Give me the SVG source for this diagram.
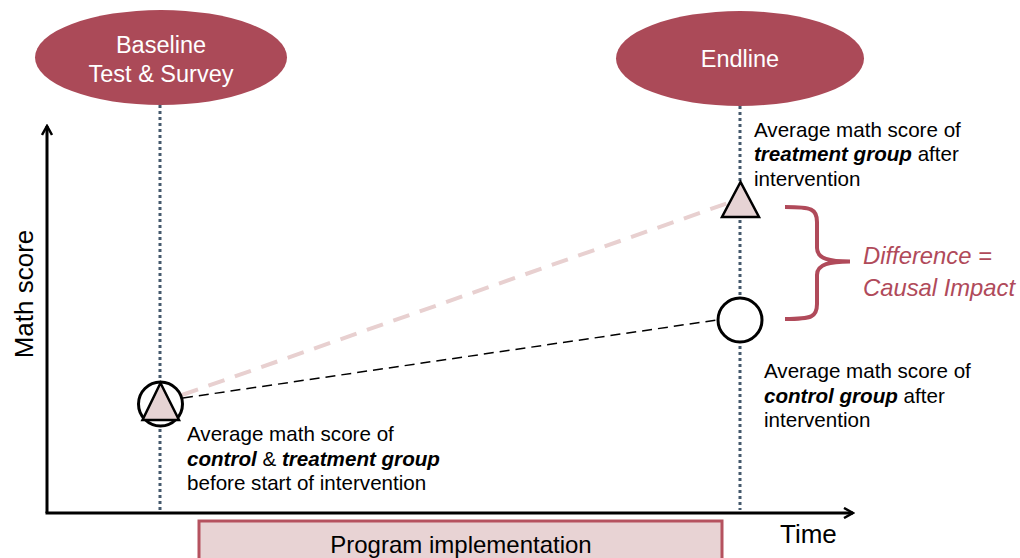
<svg xmlns="http://www.w3.org/2000/svg" width="1020" height="558" viewBox="0 0 1020 558">
<defs>
<style>
text{font-family:"Liberation Sans",Arial,sans-serif;}
.lbl{font-size:20.6px;fill:#000;}
.ell{fill:#ab4a58;}
.etx{font-size:23.5px;fill:#fff;text-anchor:middle;}
.dot{stroke:#44596c;stroke-width:3;stroke-dasharray:3 3;fill:none;}
.axis{stroke:#000;stroke-width:3;fill:none;}
.imp{font-size:23.8px;fill:#b04a5a;font-style:italic;}
</style>
<marker id="ah" viewBox="0 0 12 12" refX="10" refY="6" markerWidth="12" markerHeight="12" markerUnits="userSpaceOnUse" orient="auto">
<path d="M1,1 L10,6 L1,11" fill="none" stroke="#000" stroke-width="2.5"/>
</marker>
</defs>
<rect width="1020" height="558" fill="#fff"/>
<g id="connectors">
<line class="dot" x1="160" y1="105" x2="160" y2="510"/>
<line class="dot" x1="740" y1="106" x2="740" y2="510"/>
<line class="axis" x1="47" y1="513" x2="47" y2="126" marker-end="url(#ah)"/>
<line class="axis" x1="45.5" y1="513" x2="853" y2="513" marker-end="url(#ah)"/>
<line x1="182" y1="395" x2="728" y2="203" stroke="#e8d0d0" stroke-width="4" stroke-dasharray="17 11"/>
<line x1="183" y1="398" x2="717" y2="320" stroke="#000" stroke-width="1.5" stroke-dasharray="10 6"/>
</g>
<g id="baseline">
<ellipse class="ell" cx="161" cy="57.5" rx="126" ry="47.5"/>
<text class="etx" x="161" y="53">Baseline</text>
<text class="etx" x="161" y="82">Test &amp; Survey</text>
</g>
<g id="endline">
<ellipse class="ell" cx="740" cy="58.5" rx="124" ry="47.5"/>
<text class="etx" x="740" y="66.5">Endline</text>
</g>
<g id="baseline-point">
<circle cx="160.5" cy="404" r="22" fill="#fff" stroke="#000" stroke-width="3"/>
<polygon points="160.5,383 142.5,420 179,420" fill="#e6d3d4" stroke="#000" stroke-width="2.5" stroke-linejoin="miter"/>
</g>
<g id="treatment-point">
<polygon points="740.5,182 722,217 759,217" fill="#e6d3d4" stroke="#000" stroke-width="2.5"/>
</g>
<g id="control-point">
<circle cx="740" cy="320" r="22" fill="#fff" stroke="#000" stroke-width="3"/>
</g>
<g id="baseline-label">
<text class="lbl" x="187" y="441">Average math score of</text>
<text class="lbl" x="187" y="466"><tspan font-weight="bold" font-style="italic">control</tspan> &amp; <tspan font-weight="bold" font-style="italic">treatment group</tspan></text>
<text class="lbl" x="187" y="490">before start of intervention</text>
</g>
<g id="treatment-label">
<text class="lbl" x="754" y="137">Average math score of</text>
<text class="lbl" x="754" y="161"><tspan font-weight="bold" font-style="italic">treatment group</tspan> after</text>
<text class="lbl" x="754" y="186">intervention</text>
</g>
<g id="control-label">
<text class="lbl" x="764" y="378">Average math score of</text>
<text class="lbl" x="764" y="403"><tspan font-weight="bold" font-style="italic">control group</tspan> after</text>
<text class="lbl" x="764" y="427">intervention</text>
</g>
<g id="difference">
<path d="M785,207 C812,207 817,209 817,222 L817,248 C817,259 830,261.5 850,261.5 C830,261.5 817,264 817,275 L817,304 C817,317 812,319 785,319" fill="none" stroke="#b04a5a" stroke-width="4"/>
<text class="imp" x="863" y="264">Difference =</text>
<text class="imp" x="863" y="296">Causal Impact</text>
</g>
<g id="axis-labels">
<text x="33" y="294" font-size="26" text-anchor="middle" transform="rotate(-90 33 294)">Math score</text>
<text x="780" y="543" font-size="26">Time</text>
</g>
<g id="program">
<rect x="199" y="521" width="523" height="50" fill="#e8d3d4" stroke="#b5525f" stroke-width="3"/>
<text x="461" y="553" font-size="24" text-anchor="middle">Program implementation</text>
</g>
</svg>
